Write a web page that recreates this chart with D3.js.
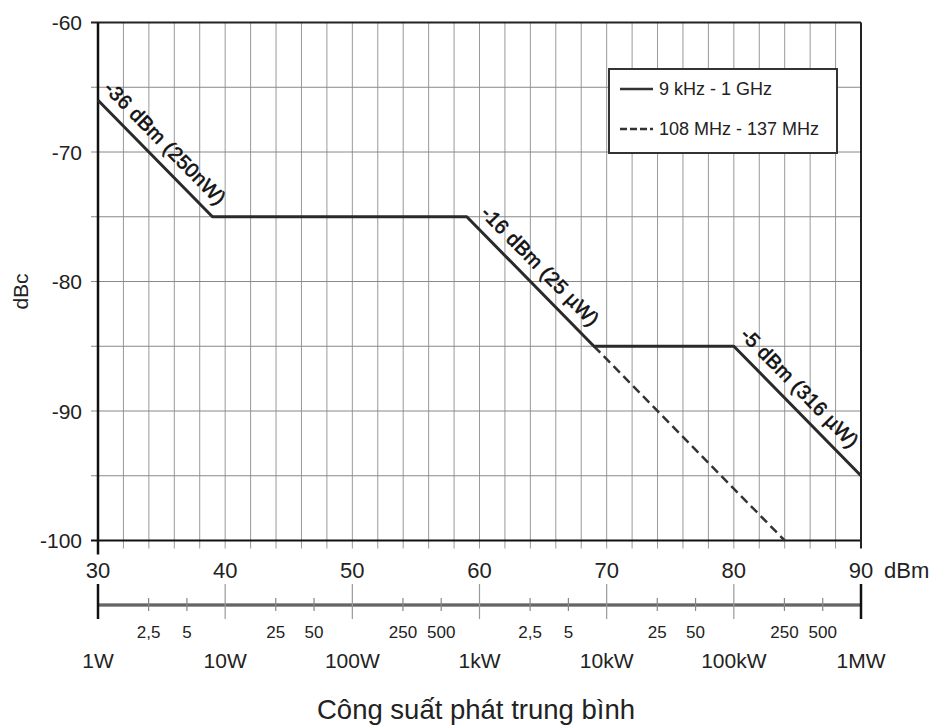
<!DOCTYPE html>
<html><head><meta charset="utf-8">
<script src="https://cdn.jsdelivr.net/npm/d3@7"></script>
<style>body{margin:0;background:#fff}text{font-family:"Liberation Sans",Arial,sans-serif;fill:#222}</style>
</head><body><svg id="c" width="935" height="727"></svg>
<script>
// ---- data ----
const solidX = [30, 39, 59, 69, 80, 90];
const solidY = [-66, -75, -75, -85, -85, -95];
const dashX = [69, 84];
const dashY = [-85, -100];
const annoLabels = ["-36 dBm (250nW)", "-16 dBm (25 µW)", "-5 dBm (316 µW)"];
const annoSegStart = [0, 2, 4]; // index into solid series
const dbmTicks = [30, 40, 50, 60, 70, 80, 90];
const dbcTicks = [-60, -70, -80, -90, -100];
const powerMajor = [1, 10, 100, 1e3, 1e4, 1e5, 1e6];
const powerMajorLabels = ["1W", "10W", "100W", "1kW", "10kW", "100kW", "1MW"];
const powerMinor = [2.5, 5, 25, 50, 250, 500, 2500, 5000, 25000, 50000, 250000, 500000];
const powerMinorLabels = ["2,5", "5", "25", "50", "250", "500", "2,5", "5", "25", "50", "250", "500"];
const legendLabels = ["9 kHz - 1 GHz", "108 MHz - 137 MHz"];

// ---- chart ----
const svg = d3.select("#c");
const x = d3.scaleLinear().domain([30, 90]).range([98, 861]);
const y = d3.scaleLinear().domain([-60, -100]).range([22.5, 540.5]);
const p = d3.scaleLog().domain([1, 1e6]).range([98, 861]);

// grid
const vg = d3.range(32, 90, 2);
svg.append("g").selectAll("line").data(vg).join("line")
  .attr("x1", d => x(d)).attr("x2", d => x(d)).attr("y1", y(-60)).attr("y2", y(-100) + 8)
  .attr("stroke", "#999").attr("stroke-width", 1);
const hg = d3.range(-65, -100, -5);
svg.append("g").selectAll("line").data(hg).join("line")
  .attr("x1", x(30) - 7).attr("x2", x(90)).attr("y1", d => y(d)).attr("y2", d => y(d))
  .attr("stroke", "#888").attr("stroke-width", 1);

// frame
svg.append("line").attr("x1", x(30) - 7).attr("x2", x(90)).attr("y1", y(-60)).attr("y2", y(-60)).attr("stroke", "#222").attr("stroke-width", 2);
svg.append("line").attr("x1", x(30) - 7).attr("x2", x(90)).attr("y1", y(-100)).attr("y2", y(-100)).attr("stroke", "#111").attr("stroke-width", 2);
svg.append("line").attr("x1", x(90)).attr("x2", x(90)).attr("y1", y(-60)).attr("y2", y(-100) + 8).attr("stroke", "#222").attr("stroke-width", 2);
svg.append("line").attr("x1", x(30)).attr("x2", x(30)).attr("y1", y(-60)).attr("y2", y(-100) + 14).attr("stroke", "#111").attr("stroke-width", 2.5);

// y labels
svg.append("g").selectAll("text").data(dbcTicks).join("text")
  .attr("x", 82).attr("y", d => y(d)).attr("dy", "0.36em").attr("text-anchor", "end")
  .attr("font-size", 21).text(d => d);
svg.append("text").attr("transform", `translate(28,${(y(-60)+y(-100))/2 + 10}) rotate(-90)`)
  .attr("text-anchor", "middle").attr("font-size", 21).text("dBc");

// x labels dBm
svg.append("g").selectAll("text").data(dbmTicks).join("text")
  .attr("x", d => x(d)).attr("y", 578).attr("text-anchor", "middle").attr("font-size", 22).text(d => d);
svg.append("text").attr("x", 884).attr("y", 578).attr("font-size", 22).text("dBm");

// power axis
const py = 605;
svg.append("line").attr("x1", p(1)).attr("x2", p(1e6)).attr("y1", py).attr("y2", py).attr("stroke", "#777").attr("stroke-width", 3.5);
svg.append("line").attr("x1", p(1)).attr("x2", p(1e6)).attr("y1", py).attr("y2", py).attr("stroke", "#555").attr("stroke-width", 1);
svg.append("g").selectAll("line").data(powerMajor).join("line")
  .attr("x1", d => p(d)).attr("x2", d => p(d)).attr("y1", 584).attr("y2", 619)
  .attr("stroke", (d, i) => (i === 0 || i === powerMajor.length - 1) ? "#111" : "#999")
  .attr("stroke-width", (d, i) => (i === 0 || i === powerMajor.length - 1) ? 2.5 : 1.2);
svg.append("g").selectAll("line").data(powerMinor).join("line")
  .attr("x1", d => p(d)).attr("x2", d => p(d)).attr("y1", 598).attr("y2", 611)
  .attr("stroke", "#888").attr("stroke-width", 1.2);
svg.append("g").selectAll("text").data(powerMinor).join("text")
  .attr("x", d => p(d)).attr("y", 638).attr("text-anchor", "middle").attr("font-size", 17)
  .text((d, i) => powerMinorLabels[i]);
svg.append("g").selectAll("text").data(powerMajor).join("text")
  .attr("x", d => p(d)).attr("y", 668).attr("text-anchor", "middle").attr("font-size", 21)
  .text((d, i) => powerMajorLabels[i]);

// series
const line = d3.line().x(d => x(d[0])).y(d => y(d[1]));
svg.append("path").datum(dashX.map((v, i) => [v, dashY[i]])).attr("d", line)
  .attr("fill", "none").attr("stroke", "#333").attr("stroke-width", 2.5).attr("stroke-dasharray", "9,5");
svg.append("path").datum(solidX.map((v, i) => [v, solidY[i]])).attr("d", line)
  .attr("fill", "none").attr("stroke", "#2a2a2a").attr("stroke-width", 3).attr("stroke-linejoin", "round");

// annotations
annoLabels.forEach((lab, k) => {
  const i = annoSegStart[k];
  const x0 = x(solidX[i]), y0 = y(solidY[i]), x1 = x(solidX[i + 1]), y1 = y(solidY[i + 1]);
  const ang = Math.atan2(y1 - y0, x1 - x0) * 180 / Math.PI;
  svg.append("text")
    .attr("transform", `translate(${(x0 + x1) / 2},${(y0 + y1) / 2}) rotate(${ang})`)
    .attr("x", k === 2 ? -15 : -4).attr("y", -11).attr("text-anchor", "middle").attr("font-size", 20)
    .attr("letter-spacing", 0.4)
    .style("fill", "#111").attr("stroke", "#111").attr("stroke-width", 0.6)
    .text(lab);
});

// legend
const lg = svg.append("g");
lg.append("rect").attr("x", 609).attr("y", 69).attr("width", 228).attr("height", 84)
  .attr("fill", "#fff").attr("stroke", "#333").attr("stroke-width", 2);
legendLabels.forEach((lab, i) => {
  const ly = 89 + i * 40;
  lg.append("line").attr("x1", 620).attr("x2", 653).attr("y1", ly).attr("y2", ly)
    .attr("stroke", "#333").attr("stroke-width", 2.5).attr("stroke-dasharray", i === 1 ? "7,3" : null);
  lg.append("text").attr("x", 659).attr("y", ly).attr("dy", "0.36em").attr("font-size", 18).text(lab);
});

// title
svg.append("text").attr("x", 476).attr("y", 719).attr("text-anchor", "middle").attr("font-size", 27.5)
  .text("Công suất phát trung bình");
</script></body></html>
